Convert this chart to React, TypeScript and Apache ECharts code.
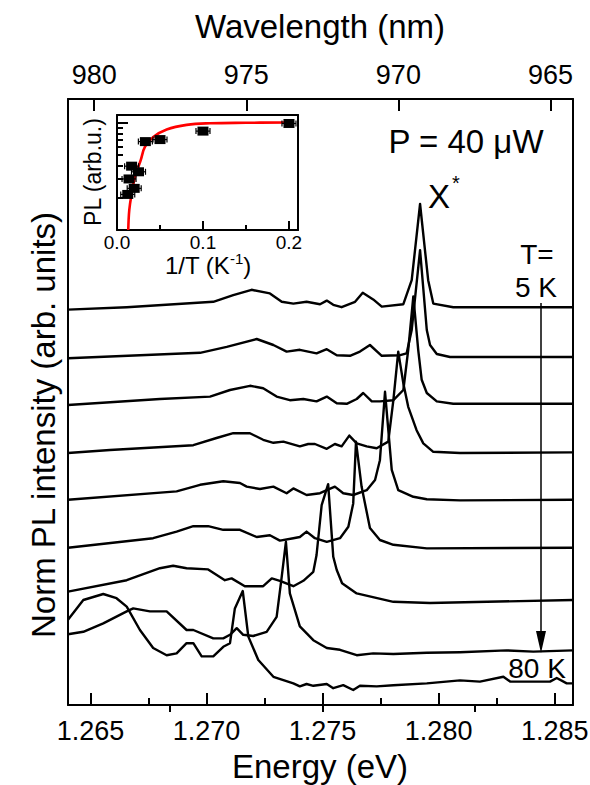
import React, { useEffect, useRef } from 'react';
import * as echarts from 'echarts';

const FONT = '"Liberation Sans", Arial, Helvetica, sans-serif';

// Bottom axis: photon energy (eV)
const energyMin = 1.26403;
const energyMax = 1.28579;
const energyTicks = [1.265, 1.27, 1.275, 1.28, 1.285];
const energyMinorTicks = [1.2675, 1.2725, 1.2775, 1.2825];

// Top axis: wavelength (nm)
const wavelengthMin = 964.26;
const wavelengthMax = 980.86;
const wavelengthTicks = [980, 975, 970, 965];
const wavelengthMinorTicks = [977.5, 972.5, 967.5];

// Spectra (energy eV, stacked normalised intensity), top (5 K) to bottom (80 K)
const temperatures = [5, 10, 20, 30, 40, 50, 60, 70, 80];

const s5K = [[1.26403,65.9],[1.26656,66.3],[1.27029,67.2],[1.27115,68.3],[1.27194,69.2],[1.27273,68.6],[1.27324,67.2],[1.27374,66.9],[1.27431,67.2],[1.27489,66.8],[1.27518,67.4],[1.27546,66.7],[1.27582,66.3],[1.2764,67.2],[1.27673,68.7],[1.27718,67.6],[1.27755,66.4],[1.27848,66.8],[1.27884,70.8],[1.2792,83.5],[1.27955,70.8],[1.27977,66.9],[1.28063,66.3],[1.28579,66.3]];
const s10K = [[1.26403,57.8],[1.26972,58.7],[1.27087,59.7],[1.27216,61.0],[1.27288,60.0],[1.27345,58.9],[1.27402,59.2],[1.27474,58.6],[1.27518,59.3],[1.27561,58.3],[1.27618,58.2],[1.27661,58.9],[1.27704,60.0],[1.27755,58.2],[1.27834,58.3],[1.27862,58.6],[1.27884,62.5],[1.2792,75.8],[1.27949,62.5],[1.27963,60.0],[1.27992,58.5],[1.28049,58.0],[1.28579,58.0]];
const s20K = [[1.26403,50.0],[1.26799,51.0],[1.27015,51.4],[1.27101,52.5],[1.27187,53.2],[1.27244,52.8],[1.27302,51.4],[1.27359,50.8],[1.27417,51.0],[1.27474,50.6],[1.27518,51.4],[1.27561,50.3],[1.27604,50.2],[1.27647,51.0],[1.27675,52.0],[1.27712,50.6],[1.27747,50.6],[1.27805,50.8],[1.27848,52.5],[1.27869,59.2],[1.27891,68.1],[1.27912,59.2],[1.27927,54.2],[1.27949,52.0],[1.27992,50.6],[1.28063,50.2],[1.28579,50.2]];
const s30K = [[1.26403,42.0],[1.26584,42.5],[1.26943,43.3],[1.27043,44.5],[1.27115,45.3],[1.27187,45.3],[1.27244,44.2],[1.27288,43.7],[1.27331,43.9],[1.27402,43.1],[1.27438,43.5],[1.27467,43.5],[1.27518,42.7],[1.27553,43.5],[1.27582,43.1],[1.27615,44.9],[1.27647,43.6],[1.2769,43.1],[1.27733,42.8],[1.27783,43.9],[1.27805,50.8],[1.27826,58.9],[1.27848,53.6],[1.27869,49.7],[1.27905,45.8],[1.27934,43.6],[1.27977,42.2],[1.28092,42.0],[1.28579,42.1]];
const s40K = [[1.26403,34.2],[1.26871,35.6],[1.26972,36.7],[1.27072,37.3],[1.27144,37.0],[1.27173,36.4],[1.2723,36.0],[1.27288,36.4],[1.27345,35.3],[1.27374,36.1],[1.27431,35.0],[1.27489,35.3],[1.27518,35.8],[1.27553,36.4],[1.27589,35.3],[1.27632,35.0],[1.2769,35.8],[1.27726,37.5],[1.27747,40.8],[1.27769,52.2],[1.27798,39.2],[1.27826,35.8],[1.27891,34.7],[1.27949,34.3],[1.28092,34.1],[1.28579,34.2]];
const s50K = [[1.26403,26.2],[1.2677,27.8],[1.26871,28.9],[1.26943,29.8],[1.27007,29.8],[1.27072,29.2],[1.27144,29.2],[1.27216,28.0],[1.27273,28.3],[1.27316,27.4],[1.27374,27.8],[1.27402,28.0],[1.27431,28.9],[1.27467,27.8],[1.27518,27.2],[1.27575,27.8],[1.27611,29.7],[1.27632,33.6],[1.27644,43.9],[1.27668,36.4],[1.27704,29.5],[1.27747,27.5],[1.27805,26.7],[1.27949,26.1],[1.28579,26.2]];
const s60K = [[1.26403,18.9],[1.26656,20.8],[1.26799,22.8],[1.26856,23.2],[1.26914,22.8],[1.27007,22.6],[1.27079,20.8],[1.27108,21.1],[1.27165,19.8],[1.27244,19.8],[1.27281,21.1],[1.27316,20.7],[1.27374,19.8],[1.27417,20.7],[1.2746,22.2],[1.27474,25.0],[1.27496,33.3],[1.27524,36.8],[1.27546,24.7],[1.27561,22.5],[1.27584,20.3],[1.27647,18.6],[1.27805,17.2],[1.27963,17.0],[1.28579,17.5]];
const s70K = [[1.26403,11.8],[1.26469,12.2],[1.26555,13.6],[1.26656,15.6],[1.26684,16.1],[1.26756,15.6],[1.26828,15.6],[1.26914,12.5],[1.26943,12.5],[1.27029,11.1],[1.27072,11.1],[1.27101,11.7],[1.2713,12.8],[1.27158,11.7],[1.27201,11.5],[1.27259,12.2],[1.27302,14.7],[1.27324,21.4],[1.27342,27.2],[1.27359,18.6],[1.27402,13.1],[1.2746,10.8],[1.27518,9.5],[1.27575,9.2],[1.27647,8.3],[1.27718,8.6],[1.27805,8.5],[1.27949,8.7],[1.28092,8.8],[1.28293,9.1],[1.28408,8.9],[1.28579,9.1]];
const s80K = [[1.26403,14.2],[1.26469,17.5],[1.26555,18.5],[1.26612,17.8],[1.26656,16.4],[1.26713,12.5],[1.2677,9.5],[1.26828,8.3],[1.26871,8.6],[1.26914,10.3],[1.26943,10.3],[1.26979,8.1],[1.27029,8.1],[1.27072,9.7],[1.27101,10.3],[1.27122,16.1],[1.27156,19.0],[1.2718,11.4],[1.27223,7.5],[1.27288,4.7],[1.27374,3.6],[1.27402,3.1],[1.27431,3.5],[1.2746,3.2],[1.27518,3.5],[1.27546,2.8],[1.27589,3.3],[1.27632,2.5],[1.27661,3.2],[1.27733,3.1],[1.27805,3.3],[1.27949,3.6],[1.28092,4.1],[1.28178,3.9],[1.28279,4.7],[1.28308,3.9],[1.2848,3.9],[1.28509,4.5],[1.28552,3.6],[1.28579,3.6]];

const spectra = [s5K, s10K, s20K, s30K, s40K, s50K, s60K, s70K, s80K];

// Inset: integrated PL vs 1/T
const invT = [0.2, 0.1, 0.05, 0.033, 0.025, 0.02, 0.017, 0.014, 0.0125];
const plValues = [9.9, 8.4, 7.0, 6.7, 3.5, 2.45, 3.95, 3.0, 2.15];
const fitInvT = [0.0131, 0.0143, 0.0171, 0.0209, 0.0248, 0.0276, 0.0326, 0.0422, 0.0578, 0.081, 0.108, 0.15, 0.2];
const fitPL = [1.0, 1.54, 2.2, 3.15, 3.9, 4.5, 6.0, 7.4, 8.7, 9.6, 9.94, 10.05, 10.1];
const insetXTicks = [0, 0.1, 0.2];
const insetXMinorTicks = [0.05, 0.15];
const insetLogMajor = [10];
const insetLogMinor = [2, 3, 4, 5, 6, 7, 8, 9];

const BLACK = '#000';
const lineStyle = () => ({ color: BLACK, width: 2 });

function txt(text: string, x: number, y: number, size: number, extra: any = {}) {
  return {
    type: 'text',
    x,
    y,
    silent: true,
    ...extra,
    style: {
      text,
      fontSize: size,
      fontFamily: FONT,
      fill: BLACK,
      textAlign: 'center',
      textVerticalAlign: 'middle',
      verticalAlign: 'middle',
    },
  };
}

function plainAxis(extra: any) {
  return {
    type: 'value',
    axisLine: { show: true, onZero: false, lineStyle: lineStyle() },
    axisTick: { show: false },
    axisLabel: { show: false },
    splitLine: { show: false },
    ...extra,
  };
}

function minorTickAxis(extra: any, ticks: number[], len: number) {
  return {
    type: 'value',
    axisLine: { show: false },
    axisTick: { show: true, inside: true, length: len, customValues: ticks, lineStyle: lineStyle() },
    axisLabel: { show: false },
    splitLine: { show: false },
    ...extra,
  };
}

export default function App() {
  const ref = useRef<HTMLDivElement>(null);

  useEffect(() => {
    if (!ref.current) return;
    const chart = echarts.init(ref.current, undefined, { renderer: 'svg' });

    const option: any = {
      animation: false,
      backgroundColor: '#fff',
      grid: [
        { left: 68, top: 99, width: 505, height: 606, containLabel: false, outerBoundsMode: 'none' },
        { left: 117, top: 115, width: 181, height: 115, containLabel: false, outerBoundsMode: 'none' },
      ],
      xAxis: [
        {
          type: 'value', gridIndex: 0, position: 'bottom', min: energyMin, max: energyMax,
          axisLine: { show: true, onZero: false, lineStyle: lineStyle() },
          axisTick: { show: true, inside: true, length: 12, customValues: energyTicks, lineStyle: lineStyle() },
          axisLabel: { show: true, customValues: energyTicks, formatter: (v: number) => v.toFixed(3), fontSize: 27, fontFamily: FONT, color: BLACK, margin: 12 },
          splitLine: { show: false },
        },
        minorTickAxis({ gridIndex: 0, position: 'bottom', min: energyMin, max: energyMax }, energyMinorTicks, 7),
        {
          type: 'value', gridIndex: 0, position: 'top', min: wavelengthMin, max: wavelengthMax, inverse: true,
          axisLine: { show: true, onZero: false, lineStyle: lineStyle() },
          axisTick: { show: true, inside: true, length: 12, customValues: wavelengthTicks, lineStyle: lineStyle() },
          axisLabel: { show: true, customValues: wavelengthTicks, formatter: (v: number) => String(Math.round(v)), fontSize: 27, fontFamily: FONT, color: BLACK, margin: 11 },
          splitLine: { show: false },
        },
        minorTickAxis({ gridIndex: 0, position: 'top', min: wavelengthMin, max: wavelengthMax, inverse: true }, wavelengthMinorTicks, 7),
        {
          type: 'value', gridIndex: 1, position: 'bottom', min: 0, max: 0.2105,
          axisLine: { show: true, onZero: false, lineStyle: lineStyle() },
          axisTick: { show: true, inside: true, length: 9, customValues: insetXTicks, lineStyle: lineStyle() },
          axisLabel: { show: true, customValues: insetXTicks, formatter: (v: number) => v.toFixed(1), fontSize: 19, fontFamily: FONT, color: BLACK, margin: 3 },
          splitLine: { show: false },
        },
        minorTickAxis({ gridIndex: 1, position: 'bottom', min: 0, max: 0.2105 }, insetXMinorTicks, 5),
        plainAxis({ gridIndex: 1, position: 'top', min: 0, max: 0.2105 }),
      ],
      yAxis: [
        plainAxis({ gridIndex: 0, position: 'left', min: 0, max: 101 }),
        plainAxis({ gridIndex: 0, position: 'right', min: 0, max: 101 }),
        {
          type: 'log', logBase: 10, gridIndex: 1, position: 'left', min: 1, max: 11.88,
          axisLine: { show: true, onZero: false, lineStyle: lineStyle() },
          axisTick: { show: true, inside: true, length: 6, customValues: insetLogMinor, lineStyle: lineStyle() },
          axisLabel: { show: false }, splitLine: { show: false },
        },
        {
          type: 'log', logBase: 10, gridIndex: 1, position: 'left', min: 1, max: 11.88,
          axisLine: { show: false },
          axisTick: { show: true, inside: true, length: 11, customValues: insetLogMajor, lineStyle: lineStyle() },
          axisLabel: { show: false }, splitLine: { show: false },
        },
        plainAxis({ gridIndex: 1, position: 'right', min: 0, max: 1 }),
      ],
      series: [
        ...spectra.map((d, i) => ({
          name: `${temperatures[i]} K`,
          type: 'line',
          xAxisIndex: 0,
          yAxisIndex: 0,
          data: d,
          showSymbol: false,
          symbol: 'none',
          clip: true,
          lineStyle: { color: BLACK, width: 2.4, join: 'round' },
          z: 3,
        })),
        {
          name: 'fit',
          type: 'line',
          xAxisIndex: 4,
          yAxisIndex: 2,
          data: fitInvT.map((x, i) => [x, fitPL[i]]),
          showSymbol: false,
          symbol: 'none',
          smooth: 0.4,
          clip: true,
          lineStyle: { color: '#ff0000', width: 2.6 },
          z: 4,
        },
        {
          name: 'PL error bars',
          type: 'custom',
          coordinateSystem: 'cartesian2d',
          xAxisIndex: 4,
          yAxisIndex: 2,
          silent: true,
          data: invT.map((x, i) => [x, plValues[i]]),
          encode: { x: 0, y: 1 },
          renderItem: (_p: any, api: any) => {
            const c = api.coord([api.value(0), api.value(1)]);
            const st = { stroke: BLACK, lineWidth: 1.2 };
            return {
              type: 'group',
              children: [
                { type: 'line', shape: { x1: c[0] - 7, y1: c[1], x2: c[0] + 7, y2: c[1] }, style: st },
                { type: 'line', shape: { x1: c[0] - 7, y1: c[1] - 3, x2: c[0] - 7, y2: c[1] + 3 }, style: st },
                { type: 'line', shape: { x1: c[0] + 7, y1: c[1] - 3, x2: c[0] + 7, y2: c[1] + 3 }, style: st },
              ],
            };
          },
          z: 5,
        },
        {
          name: 'PL',
          type: 'scatter',
          xAxisIndex: 4,
          yAxisIndex: 2,
          data: invT.map((x, i) => [x, plValues[i]]),
          symbol: 'rect',
          symbolSize: [11, 9],
          itemStyle: { color: BLACK, opacity: 1 },
          z: 6,
        },
      ],
      graphic: [
        txt('Wavelength (nm)', 320, 26, 33),
        txt('Energy (eV)', 320, 766, 33),
        txt('Norm PL intensity (arb. units)', 43, 425, 33, { rotation: Math.PI / 2 }),
        txt('P = 40 \u03bcW', 466, 141, 33),
        txt('X', 439, 196, 33),
        txt('*', 456, 183, 20),
        txt('T=', 537, 254, 28),
        txt('5 K', 536, 287, 28),
        txt('80 K', 537, 668, 28),
        txt('PL (arb.u.)', 93, 172, 23, { rotation: Math.PI / 2 }),
        {
          type: 'text', x: 208, y: 265, silent: true,
          style: {
            text: '{a|1/T (K}{b|-1}{a|)}',
            textAlign: 'center', textVerticalAlign: 'middle', verticalAlign: 'middle',
            fill: BLACK,
            rich: {
              a: { fontSize: 24, fontFamily: FONT, fill: BLACK, lineHeight: 28 },
              b: { fontSize: 15, fontFamily: FONT, fill: BLACK, verticalAlign: 'top', lineHeight: 16 },
            },
          },
        },
        { type: 'line', silent: true, shape: { x1: 541, y1: 303, x2: 541, y2: 636 }, style: { stroke: BLACK, lineWidth: 1.5 } },
        { type: 'polygon', silent: true, shape: { points: [[536, 631], [546, 631], [541, 653]] }, style: { fill: BLACK } },
      ],
    };

    chart.setOption(option);
    return () => chart.dispose();
  }, []);

  return (
    <div
      ref={ref}
      style={{ position: 'absolute', left: 0, top: 0, width: 590, height: 785, background: '#fff' }}
    />
  );
}
